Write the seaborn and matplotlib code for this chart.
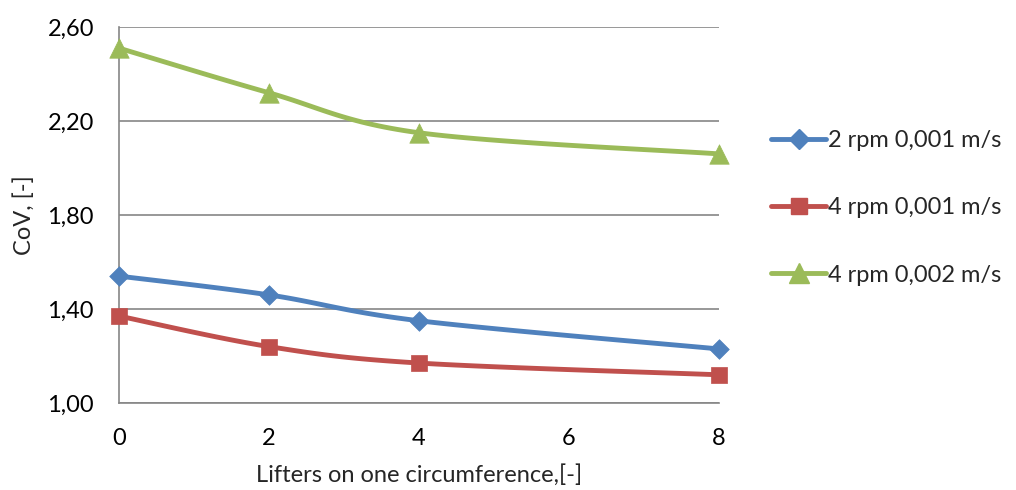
import numpy as np
import matplotlib
matplotlib.use("Agg")
import matplotlib.pyplot as plt
import seaborn as sns
from matplotlib.lines import Line2D

x_vals = [0, 2, 4, 8]
series_names = ["2 rpm 0,001 m/s", "4 rpm 0,001 m/s", "4 rpm 0,002 m/s"]
blue_vals = [1.54, 1.46, 1.35, 1.23]
red_vals = [1.37, 1.24, 1.17, 1.12]
green_vals = [2.51, 2.32, 2.15, 2.06]
y_ticks = [1.00, 1.40, 1.80, 2.20, 2.60]
x_ticks = [0, 2, 4, 6, 8]

colors = ["#4F81BD", "#C0504D", "#9BBB59"]
markers = ["D", "s", "^"]
msizes = [10, 12, 14]

sns.set_style("white")
plt.rcParams['font.family'] = ['Lato', 'DejaVu Sans']

fig = plt.figure(figsize=(10.16, 4.9), dpi=100)
ax = fig.add_axes([119/1016, 1-403/490, 600/1016, 376/490])


def smooth(xs, ys, n=30):
    # Excel-style Catmull-Rom smoothing through the given points
    xs = np.asarray(xs, float); ys = np.asarray(ys, float)
    px = np.concatenate([[xs[0]], xs, [xs[-1]]])
    py = np.concatenate([[ys[0]], ys, [ys[-1]]])
    ox, oy = [], []
    for i in range(1, len(px) - 2):
        p0 = np.array([px[i-1], py[i-1]]); p1 = np.array([px[i], py[i]])
        p2 = np.array([px[i+1], py[i+1]]); p3 = np.array([px[i+2], py[i+2]])
        c1 = p1 + (p2 - p0) / 6.0
        c2 = p2 - (p3 - p1) / 6.0
        t = np.linspace(0, 1, n)[:, None]
        pts = ((1-t)**3)*p1 + 3*((1-t)**2)*t*c1 + 3*(1-t)*(t**2)*c2 + (t**3)*p2
        ox.extend(pts[:, 0]); oy.extend(pts[:, 1])
    return np.array(ox), np.array(oy)


all_vals = [blue_vals, red_vals, green_vals]
handles = []
for vals, c, m, ms, name in zip(all_vals, colors, markers, msizes, series_names):
    sx, sy = smooth(x_vals, vals)
    ax.plot(sx, sy, color=c, lw=3.5, zorder=3, solid_capstyle='round', clip_on=False)
    sns.scatterplot(x=x_vals, y=vals, ax=ax, color=c, marker=m, s=ms**2,
                    edgecolor=c, linewidth=0.5, zorder=4, legend=False, clip_on=False)
    handles.append(Line2D([0], [0], color=c, lw=3.5, marker=m, markersize=ms,
                          markeredgecolor=c, label=name, solid_capstyle='round'))

ax.set_xlim(0, 8)
ax.set_ylim(1.0, 2.6)
ax.set_xticks(x_ticks)
ax.set_xticklabels([str(t) for t in x_ticks])
ax.set_yticks(y_ticks)
ax.set_yticklabels([f"{t:.2f}".replace(".", ",") for t in y_ticks])
ax.yaxis.grid(True, color="#868686", lw=1.2)
ax.set_axisbelow(True)
for s in ["top", "right"]:
    ax.spines[s].set_visible(False)
for s in ["left", "bottom"]:
    ax.spines[s].set_color("#868686")
    ax.spines[s].set_linewidth(1.2)
ax.tick_params(axis='both', direction='out', length=6, width=1.2, color="#868686",
               labelsize=17, labelcolor="black")
ax.tick_params(axis='x', pad=12)
ax.tick_params(axis='y', pad=12)
ax.set_xlabel("Lifters on one circumference,[-]", fontsize=17, labelpad=11)
ax.set_ylabel("CoV, [-]", fontsize=17, labelpad=9)

fig.legend(handles=handles, loc="upper left", bbox_to_anchor=(762/1016, 1-121/490),
           frameon=False, fontsize=17, handlelength=2.3, handletextpad=0.1,
           labelspacing=1.95, borderaxespad=0)

fig.savefig("out.png", dpi=100)
